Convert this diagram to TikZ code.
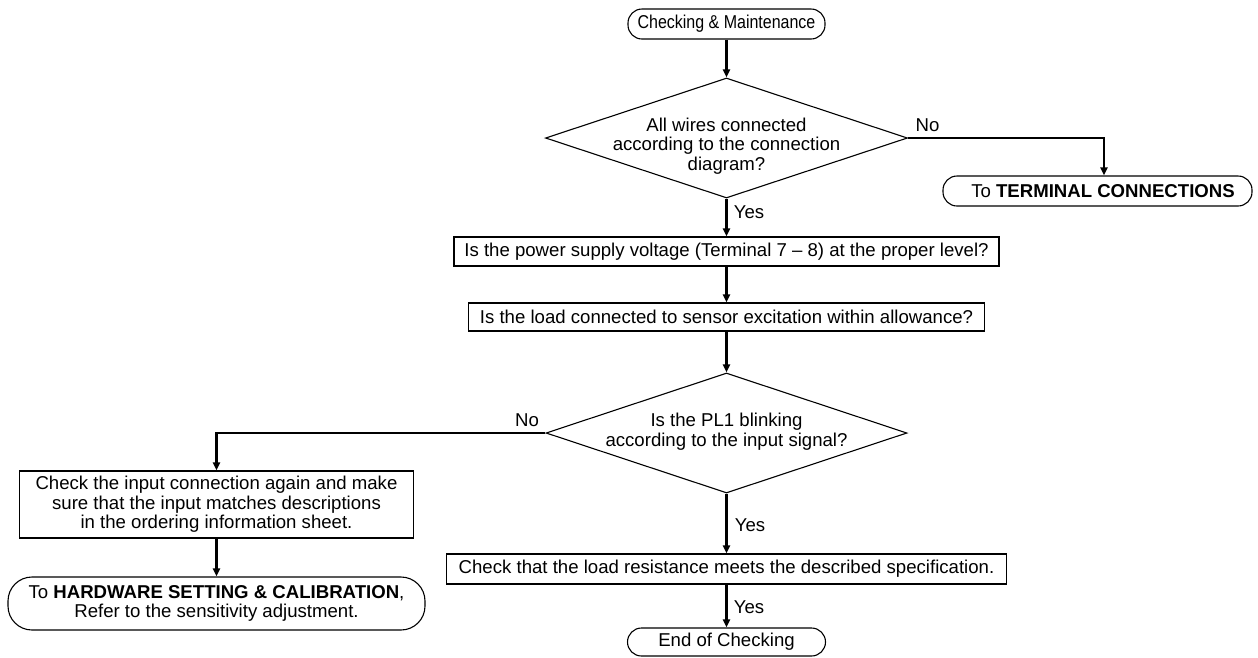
\documentclass[tikz,border=0pt]{standalone}
\usepackage{fontspec}
\setmainfont{Liberation Sans}
\usetikzlibrary{shapes.geometric,arrows.meta,calc}
\newcommand{\ztext}[2]{\makebox[0pt]{\smash{\raisebox{#1}{\begin{tabular}{@{}c@{}}#2\end{tabular}}}}}
\begin{document}
\begin{tikzpicture}[x=1pt,y=-1pt,
  font=\fontsize{18.6}{19.5}\selectfont,
  box/.style={draw, line width=1.1pt, inner sep=0pt, align=center},
  term/.style={draw, line width=1.1pt, inner sep=0pt, align=center, rounded corners=14pt},
  decision/.style={draw, line width=1.1pt, shape=diamond, inner sep=0pt, shape aspect=3},
  flow/.style={line width=2.2pt, -{Triangle[length=8pt,width=7pt]}},
  lbl/.style={inner sep=0pt}]
\useasboundingbox (0,0) rectangle (1258,657);

\node[term, minimum width=197pt, minimum height=30pt] (start) at (726.5,24)
  {\scalebox{0.86}[1]{Checking \& Maintenance}};
\node[decision, minimum width=362pt, minimum height=120pt] (d1) at (726.5,138)
  {\ztext{-13pt}{All wires connected\\according to the connection\\diagram?}};
\node[term, minimum width=309pt, minimum height=30pt] (t2) at (1097.5,191)
  {\hspace*{11pt}To \textbf{TERMINAL CONNECTIONS}};
\node[box, minimum width=545pt, minimum height=29pt] (b1) at (726.5,251.5)
  {Is the power supply voltage (Terminal 7 -- 8) at the proper level?};
\node[box, minimum width=516pt, minimum height=28pt] (b2) at (726.5,317)
  {Is the load connected to sensor excitation within allowance?};
\node[decision, minimum width=361pt, minimum height=120pt] (d2) at (726.5,433)
  {\ztext{-4pt}{Is the PL1 blinking\\according to the input signal?}};
\node[box, minimum width=394pt, minimum height=67pt] (b4) at (216.5,504.5)
  {Check the input connection again and make\\sure that the input matches descriptions\\in the ordering information sheet.};
\node[term, rounded corners=24pt, minimum width=417pt, minimum height=53pt] (t3) at (216.5,603.5)
  {To \textbf{HARDWARE SETTING \& CALIBRATION},\\Refer to the sensitivity adjustment.};
\node[box, minimum width=560pt, minimum height=30pt] (b3) at (726.5,569)
  {Check that the load resistance meets the described specification.};
\node[term, minimum width=198pt, minimum height=28pt] (end) at (726.5,642)
  {End of Checking};

\node[lbl] (no1) at (927.5,125) {No};
\node[lbl] (yes1) at (749,212) {Yes};
\node[lbl] (no2) at (527,420) {No};
\node[lbl] (yes2) at (750,525) {Yes};
\node[lbl] (yes3) at (749,607) {Yes};

\draw[flow] (start) -- (d1);
\draw[flow] (d1.east) -| ($(t2.north)+(6.5,0)$);
\draw[flow] (d1) -- (b1);
\draw[flow] (b1) -- (b2);
\draw[flow] (b2) -- (d2);
\draw[flow] (d2.west) -| (b4.north);
\draw[flow] (b4) -- (t3);
\draw[flow] (d2) -- (b3);
\draw[flow] (b3) -- (end);
\end{tikzpicture}
\end{document}
